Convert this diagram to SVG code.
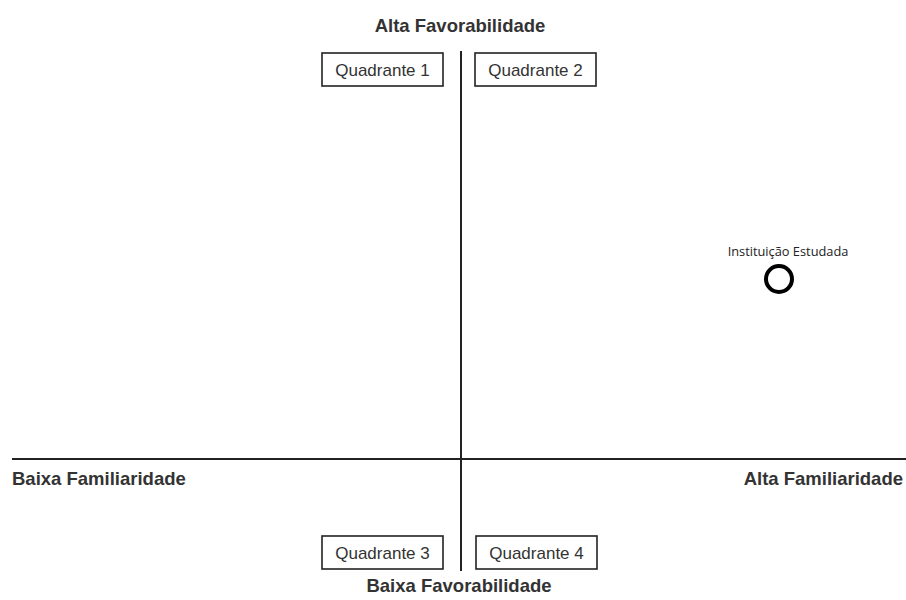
<svg xmlns="http://www.w3.org/2000/svg" width="906" height="600" viewBox="0 0 906 600">
<style>
.ax{stroke:#222;stroke-width:2;fill:none}
.box rect{fill:#fff;stroke:#222;stroke-width:1.6}
.box text{font-family:"Liberation Sans",Arial,sans-serif;font-size:17px;fill:#333;text-anchor:middle}
.lbl{font-family:"Liberation Sans",Arial,sans-serif;font-size:18.5px;font-weight:bold;fill:#333}
</style>
<rect width="906" height="600" fill="#fff"/>
<g id="axes">
<line class="ax" x1="461" y1="51" x2="461" y2="571"/>
<line class="ax" x1="12" y1="459" x2="906" y2="459"/>
</g>
<text class="lbl" x="460" y="32" text-anchor="middle">Alta Favorabilidade</text>
<text class="lbl" x="459" y="592" text-anchor="middle">Baixa Favorabilidade</text>
<text class="lbl" x="12" y="485">Baixa Familiaridade</text>
<text class="lbl" x="903" y="485" text-anchor="end">Alta Familiaridade</text>
<g id="q1" class="box"><rect x="322" y="53" width="121" height="33"/><text x="382.5" y="76">Quadrante 1</text></g>
<g id="q2" class="box"><rect x="475" y="53" width="121" height="33"/><text x="535.5" y="76">Quadrante 2</text></g>
<g id="q3" class="box"><rect x="322" y="536" width="121" height="33"/><text x="382.5" y="559">Quadrante 3</text></g>
<g id="q4" class="box"><rect x="476" y="536" width="121" height="33"/><text x="536.5" y="559">Quadrante 4</text></g>
<g id="inst">
<text x="788" y="256" font-family="'Open Sans',sans-serif" font-size="12.8" fill="#222" text-anchor="middle">Instituição Estudada</text>
<circle cx="779" cy="279" r="13" fill="none" stroke="#000" stroke-width="4"/>
</g>
</svg>
